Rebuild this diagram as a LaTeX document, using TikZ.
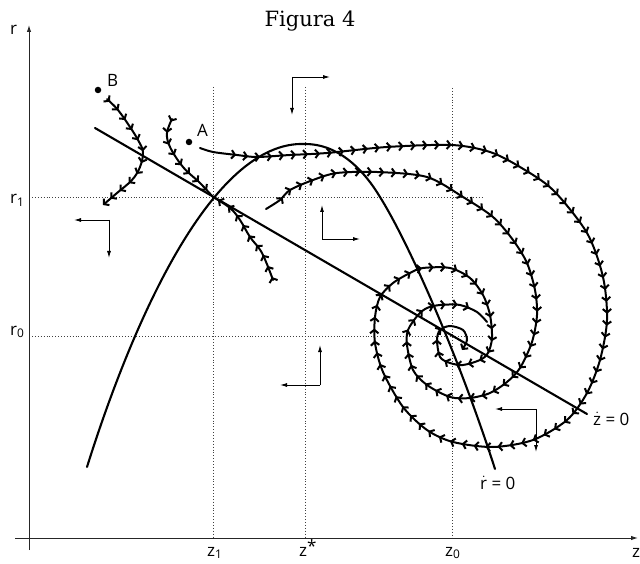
\documentclass[tikz,border=0pt]{standalone}
\usepackage{fontspec}
\setsansfont{Open Sans}
\newfontfamily\titlefont{DejaVu Serif}
\usetikzlibrary{arrows.meta, decorations.markings}

\newcommand{\dotsym}[1]{$\dot{\mbox{#1}}$}

\begin{document}
\begin{tikzpicture}[
  x=1pt, y=-1pt,
  axis/.style   = {line width=1pt, draw=black!85, -{Latex[length=7pt, width=4.5pt]}},
  guide/.style  = {dotted, line width=0.9pt, draw=black!75},
  locus/.style  = {line width=2.1pt, line cap=round},
  traj/.style   = {line width=2pt, line cap=round,
                   postaction={decorate},
                   decoration={markings,
                     mark=between positions 0.03 and 0.97 step 12pt
                     with {\arrow{Straight Barb[length=3.5pt, width=8.5pt]}}}},
  endtip/.style = {-{Straight Barb[length=3.5pt, width=8.5pt]}},
  dirarr/.style = {line width=0.9pt, -{Latex[length=7pt, width=4pt]}},
  dot/.style    = {circle, fill, inner sep=0pt, minimum size=6.5pt},
  lbl/.style    = {font=\sffamily\fontsize{17}{17}\selectfont, inner sep=0pt}
]
\useasboundingbox (0,0) rectangle (640,564);

%-- Titel ------------------------------------------------------------------
\node[font=\titlefont\fontsize{21}{24}\selectfont, anchor=base]
  (title) at (310,27) {Figura 4};

%-- Gleichgewichte ---------------------------------------------------------
\coordinate (saddle) at (213,197);
\coordinate (focus)  at (452,336);

%-- Hilfslinien ------------------------------------------------------------
\draw[guide] (213,87) -- (213,538);
\draw[guide] (305,87) -- (305,538);
\draw[guide] (452,88) -- (452,538);
\draw[guide] (32,197) -- (482,197);
\draw[guide] (32,336) -- (482,336);

%-- Achsen -----------------------------------------------------------------
\draw[axis] (29,550) -- (29,25);
\draw[axis] (15,538) -- (638,538);

\node[lbl, anchor=base west] (rax)  at (10,35)  {r};
\node[lbl, anchor=base west] (zax)  at (632,557) {z};
\node[lbl, anchor=base west] (rone) at (10,204) {r\textsubscript{1}};
\node[lbl, anchor=base west] (rnul) at (10,335) {r\textsubscript{0}};
\node[lbl, anchor=base west] (zone) at (207,556) {z\textsubscript{1}};
\node[lbl, anchor=base west] (zst)  at (299,556) {z\raisebox{4pt}{*}};
\node[lbl, anchor=base west] (znul) at (445,556) {z\textsubscript{0}};

%-- Isoklinen --------------------------------------------------------------
\coordinate (zdotL) at (95,128);
\coordinate (zdotR) at (587,414);
\draw[locus] (zdotL) -- (zdotR);

\coordinate (rdotL) at (87,467);
\coordinate (rdotT) at (305,144);
\coordinate (rdotM) at (380,197);
\coordinate (rdotR) at (495,469);
\draw[locus] (rdotL) .. controls (130,330) and (210,140) .. (rdotT)
                     .. controls (340,144) and (365,172) .. (rdotM)
                     .. controls (410,245) and (460,360) .. (rdotR);

\node[lbl, anchor=base west] (zdotlbl) at (593,425) {\dotsym{z} = 0};
\node[lbl, anchor=base west] (rdotlbl) at (480,489) {\dotsym{r} = 0};

%-- Trajektorien -----------------------------------------------------------
\node[dot] (ptB) at (98,90) {};
\node[lbl, anchor=base west] (lblB) at (107,87) {B};
\node[dot] (ptA) at (189,142) {};
\node[lbl, anchor=base west] (lblA) at (197,137) {A};

% von B
\draw[traj, endtip] plot[smooth, tension=0.6] coordinates {
  (107,99) (118,110) (130,127) (138,140) (143,152) (140,167) (132,180)
  (117,193) (103,205)};

% Sattelpfad oben
\draw[traj] plot[smooth, tension=0.6] coordinates {
  (172,119) (167,133) (170,147) (183,167) (200,183) (213,197)};

% Sattelpfad unten
\draw[traj] plot[smooth, tension=0.6] coordinates {
  (273,280) (262,253) (250,237) (240,220) (230,208) (213,197)};

% Spirale von A
\draw[traj, endtip] plot[smooth, tension=0.5] coordinates {
  (200,148) (213,152) (237,155) (257,157) (290,155) (327,153) (387,147)
  (452,145) (490,152) (520,167) (553,190) (587,233) (603,277) (607,320)
  (600,360) (587,393) (567,420) (533,440) (493,447) (453,442) (427,430)
  (403,407) (383,372) (375,343) (375,317) (380,297) (393,283) (410,273)
  (423,268) (450,268) (470,278) (483,295) (490,315) (492,338) (488,353)
  (480,360) (463,365) (450,363) (440,357) (437,340) (440,330) (450,326)
  (463,330) (467,340) (462,350)};

% innere Spirale
\draw[traj] plot[smooth, tension=0.5] coordinates {
  (266,209) (280,200) (290,190) (313,180) (337,173) (377,172) (427,177)
  (463,197) (493,217) (513,240) (527,263) (535,290) (537,315) (532,342)
  (520,368) (507,382) (490,393) (470,398) (450,397) (427,385) (413,370)
  (407,345) (408,330) (418,315) (427,308) (440,305) (460,305) (477,312)
  (487,322)};

%-- Bewegungsrichtungen -----------------------------------------------------
\coordinate (dirA) at (292,77);
\draw[dirarr] (dirA) -- ++(0,38);
\draw[dirarr] (dirA) -- ++(38,0);

\coordinate (dirB) at (109,220);
\draw[dirarr] (dirB) -- ++(-35,0);
\draw[dirarr] (dirB) -- ++(0,38);

\coordinate (dirC) at (322,239);
\draw[dirarr] (dirC) -- ++(0,-34);
\draw[dirarr] (dirC) -- ++(38,0);

\coordinate (dirD) at (320,385);
\draw[dirarr] (dirD) -- ++(-40,0);
\draw[dirarr] (dirD) -- ++(0,-40);

\coordinate (dirE) at (536,409);
\draw[dirarr] (dirE) -- ++(-41,0);
\draw[dirarr] (dirE) -- ++(0,43);

\end{tikzpicture}
\end{document}
